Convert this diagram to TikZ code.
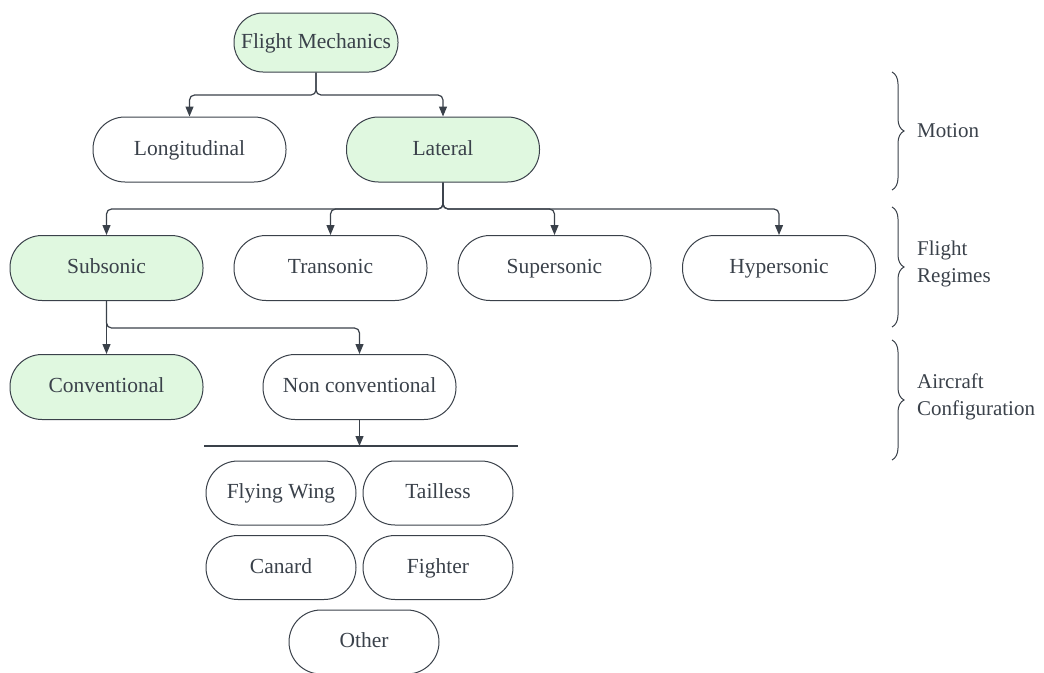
\documentclass[tikz,border=0pt]{standalone}
\usepackage{fontspec}
\setmainfont{Liberation Serif}
\usetikzlibrary{arrows.meta,decorations.pathreplacing}
\definecolor{linec}{HTML}{3A414A}
\definecolor{greenf}{HTML}{E0F8E0}
\tikzset{
  pill/.style={draw=linec, line width=1pt, rounded corners=32pt, minimum width=193pt, minimum height=65pt, inner sep=0pt, text=linec, font=\fontsize{21.5}{26}\selectfont, text height=15pt, text depth=4pt},
  small/.style={pill, minimum width=150pt, minimum height=64pt},
  green/.style={fill=greenf},
  conn/.style={draw=linec, line width=1.2pt, rounded corners=5pt, -{Triangle[width=8pt,length=10pt]}},
  plain/.style={draw=linec, line width=1.2pt},
  bracestyle/.style={draw=linec, line width=1pt, decorate, decoration={brace, amplitude=12pt}},
  lab/.style={anchor=west, align=left, text=linec, font=\fontsize{21}{27}\selectfont, inner sep=0pt}
}
\begin{document}
\begin{tikzpicture}[x=1pt,y=1pt]
\useasboundingbox (0,0) rectangle (1044,-672);
\node[pill, green, minimum width=164pt, minimum height=59pt, rounded corners=29pt] (fm) at (316,-42.5) {Flight Mechanics};
\node[pill] (lon) at (189.5,-149.5) {Longitudinal};
\node[pill, green] (lat) at (443,-149.5) {Lateral};
\node[pill, green] (sub) at (106.5,-268) {Subsonic};
\node[pill] (tra) at (330.5,-268) {Transonic};
\node[pill] (sup) at (554.5,-268) {Supersonic};
\node[pill] (hyp) at (779,-268) {Hypersonic};
\node[pill, green] (con) at (106.5,-387) {Conventional};
\node[pill] (nc) at (359.5,-387) {Non conventional};
\node[small] (fw) at (281,-493) {Flying Wing};
\node[small] (tl) at (438,-493) {Tailless};
\node[small] (ca) at (281,-567.5) {Canard};
\node[small] (fi) at (438,-567.5) {Fighter};
\node[small] (ot) at (364,-642) {Other};
% connectors
\coordinate (j1) at (316,-95);
\draw[conn] (fm.south) -- (j1) -| (lon.north);
\draw[conn] (fm.south) -- (j1) -| (lat.north);
\coordinate (j2) at (443,-209);
\draw[conn] (lat.south) -- (j2) -| (sub.north);
\draw[conn] (lat.south) -- (j2) -| (tra.north);
\draw[conn] (lat.south) -- (j2) -| (sup.north);
\draw[conn] (lat.south) -- (j2) -| (hyp.north);
\coordinate (j3) at (106.5,-328);
\draw[conn] (sub.south) -- (con.north);
\draw[conn] (sub.south) -- (j3) -| (nc.north);
\coordinate (hl1) at (204,-446);
\coordinate (hl2) at (518,-446);
\draw[plain] (hl1) -- (hl2);
\draw[conn] (nc.south) -- (nc.south |- hl1);
% braces
\coordinate (b1a) at (892,-72);
\coordinate (b1b) at (892,-190);
\coordinate (b2a) at (892,-207);
\coordinate (b2b) at (892,-327);
\coordinate (b3a) at (892,-340);
\coordinate (b3b) at (892,-460);
\draw[bracestyle] (b1a) -- (b1b);
\draw[bracestyle] (b2a) -- (b2b);
\draw[bracestyle] (b3a) -- (b3b);
\node[lab] (l1) at (917,-131) {Motion};
\node[lab] (l2) at (917,-264) {Flight\\Regimes};
\node[lab] (l3) at (917,-397) {Aircraft\\Configuration};
\end{tikzpicture}
\end{document}
